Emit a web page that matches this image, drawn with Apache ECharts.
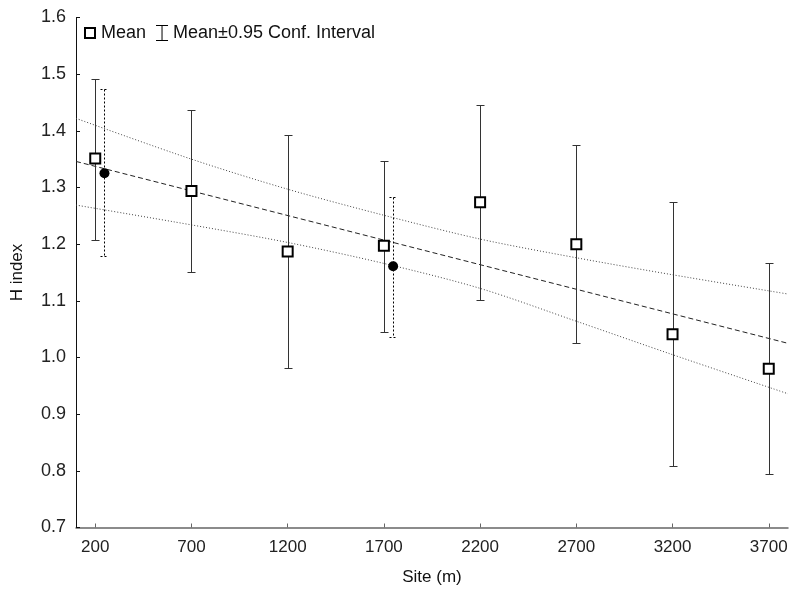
<!DOCTYPE html>
<html>
<head>
<meta charset="utf-8">
<script src="https://cdn.jsdelivr.net/npm/echarts@6/dist/echarts.min.js"></script>
<style>html,body{margin:0;padding:0;background:#fff;}#c{width:792px;height:591px;}</style>
</head>
<body>
<div id="c"></div>
<script>
// ---- data ----
var xTicks = [200, 700, 1200, 1700, 2200, 2700, 3200, 3700];
var sites = [200, 700, 1200, 1700, 2200, 2700, 3200, 3700];
var means = [1.351, 1.294, 1.187, 1.197, 1.274, 1.200, 1.041, 0.980];
var ciLow = [1.207, 1.151, 0.982, 1.045, 1.102, 1.025, 0.808, 0.794];
var ciHigh = [1.492, 1.436, 1.392, 1.347, 1.446, 1.375, 1.274, 1.166];
var dotX = [248, 1748];
var dotY = [1.325, 1.161];
var dotLow = [1.180, 1.037];
var dotHigh = [1.473, 1.284];
var fitX = [100, 3800];
var fitY = [1.346, 1.025];
var bandX = [100, 700, 1200, 1700, 2200, 2700, 3200, 3800];
var bandUpper = [1.422, 1.350, 1.297, 1.251, 1.209, 1.176, 1.146, 1.112];
var bandLower = [1.269, 1.234, 1.203, 1.166, 1.122, 1.064, 1.005, 0.936];

function zip2(a, b) { return a.map(function (v, i) { return [v, b[i]]; }); }
function zip3(a, b, c) { return a.map(function (v, i) { return [v, b[i], c[i]]; }); }

var FONT = 'Liberation Sans, Arial, sans-serif';

function errRender(dotted) {
  return function (params, api) {
    var x = api.value(0), lo = api.value(1), hi = api.value(2);
    var p1 = api.coord([x, hi]), p2 = api.coord([x, lo]);
    var cx = Math.round(p1[0]) + 0.5;
    var yt = Math.round(p1[1]) + 0.5, yb = Math.round(p2[1]) + 0.5;
    var st = { stroke: dotted ? '#000' : '#333', lineWidth: 1, lineDash: dotted ? [2, 2] : null };
    return {
      type: 'group',
      children: [
        { type: 'line', shape: { x1: cx, y1: yt, x2: cx, y2: yb }, style: st },
        { type: 'line', shape: { x1: cx - 4, y1: yt, x2: cx + 4, y2: yt }, style: st },
        { type: 'line', shape: { x1: cx - 4, y1: yb, x2: cx + 4, y2: yb }, style: st }
      ]
    };
  };
}

var chart = echarts.init(document.getElementById('c'), null, { renderer: 'canvas' });
chart.setOption({
  animation: false,
  backgroundColor: '#fff',
  grid: { left: 76, right: 4, top: 17.5, bottom: 63.5, containLabel: false },
  legend: {
    left: 79, top: 19, itemWidth: 12, itemHeight: 16, itemGap: 10,
    selectedMode: false,
    textStyle: { fontSize: 18, color: '#111', fontFamily: FONT },
    data: [
      { name: 'Mean', icon: 'path://M0,0H12V12H0Z M2,2V10H10V2Z', itemStyle: { color: '#000', borderWidth: 0 } },
      { name: 'Mean±0.95 Conf. Interval', icon: 'path://M0,0H12V1H6.5V15H12V16H0V15H5.5V1H0Z', itemStyle: { color: '#000', borderWidth: 0 } }
    ]
  },
  xAxis: {
    type: 'value', min: 100, max: 3800,
    name: 'Site (m)', nameLocation: 'middle', nameGap: 41,
    nameTextStyle: { fontSize: 17, color: '#111', fontFamily: FONT },
    axisLine: { show: true, lineStyle: { color: '#666', width: 1.5 } },
    axisTick: { show: true, inside: true, length: 4, lineStyle: { color: '#666' }, customValues: xTicks },
    axisLabel: { fontSize: 17, color: '#222', fontFamily: FONT, margin: 11, customValues: xTicks,
      formatter: function (v) { return String(v); } },
    splitLine: { show: false }
  },
  yAxis: {
    type: 'value', min: 0.7, max: 1.6, interval: 0.1,
    name: 'H index', nameLocation: 'middle', nameGap: 50, nameRotate: 90,
    nameTextStyle: { fontSize: 17, color: '#111', fontFamily: FONT },
    axisLine: { show: true, lineStyle: { color: '#111', width: 1 } },
    axisTick: { show: true, inside: true, length: 4, lineStyle: { color: '#111' } },
    axisLabel: { fontSize: 18, color: '#222', fontFamily: FONT, margin: 10,
      formatter: function (v) { return v.toFixed(1); } },
    splitLine: { show: false }
  },
  series: [
    { type: 'line', name: 'upper', data: zip2(bandX, bandUpper), showSymbol: false, symbol: 'none',
      smooth: 0.3, lineStyle: { color: '#444', width: 1, type: [1, 2] }, z: 1, silent: true },
    { type: 'line', name: 'lower', data: zip2(bandX, bandLower), showSymbol: false, symbol: 'none',
      smooth: 0.3, lineStyle: { color: '#444', width: 1, type: [1, 2] }, z: 1, silent: true },
    { type: 'line', name: 'fit', data: zip2(fitX, fitY), showSymbol: false, symbol: 'none',
      lineStyle: { color: '#222', width: 1, type: [5, 3] }, z: 1, silent: true },
    { type: 'custom', name: 'Mean±0.95 Conf. Interval', renderItem: errRender(false),
      data: zip3(sites, ciLow, ciHigh), encode: { x: 0, y: [1, 2] }, z: 2, itemStyle: { color: '#000' } },
    { type: 'custom', name: 'dotErr', renderItem: errRender(true),
      data: zip3(dotX, dotLow, dotHigh), encode: { x: 0, y: [1, 2] }, z: 2 },
    { type: 'scatter', name: 'Mean', data: zip2(sites, means), symbol: 'rect', symbolSize: 10,
      itemStyle: { color: '#fff', borderColor: '#000', borderWidth: 2, opacity: 1 }, z: 5 },
    { type: 'scatter', name: 'dots', data: zip2(dotX, dotY), symbol: 'circle', symbolSize: 10,
      itemStyle: { color: '#000', opacity: 1 }, z: 5 }
  ]
});
</script>
</body>
</html>
